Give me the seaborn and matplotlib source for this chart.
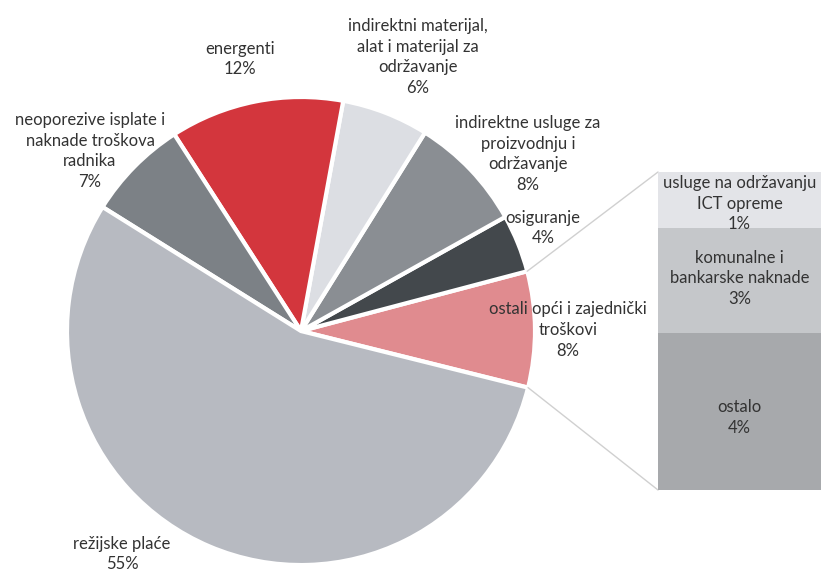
import numpy as np
import matplotlib
matplotlib.use("Agg")
import matplotlib.pyplot as plt
import seaborn as sns

# ---------------- data ----------------
pie_labels = [
    "ostali opći i zajednički\ntroškovi",
    "osiguranje",
    "indirektne usluge za\nproizvodnju i\nodržavanje",
    "indirektni materijal,\nalat i materijal za\nodržavanje",
    "energenti",
    "neoporezive isplate i\nnaknade troškova\nradnika",
    "režijske plaće",
]
pie_values = [8, 4, 8, 6, 12, 7, 55]

bar_labels = ["ostalo", "komunalne i\nbankarske naknade", "usluge na održavanju\nICT opreme"]
bar_values = [3.95, 2.65, 1.4]   # bottom -> top, sums to the "ostali" slice

# ---------------- style ----------------
pie_colors = ["#e08b8f", "#43484c", "#8a8e93", "#dcdee3", "#d3363d", "#7c8186", "#b7bac1"]
bar_colors = ["#a7a9ac", "#c5c7ca", "#e3e4e8"]
explode = [0, 0, 0, 0, 0, 0, 0.04]
text_color = "#333333"
line_color = "#d0d0d0"
fs = 12

W, H = 821, 576
sns.set_theme(style="white")
plt.rcParams["font.family"] = ["Lato", "DejaVu Sans"]

fig = plt.figure(figsize=(W / 100, H / 100), dpi=100)
ax = fig.add_axes([0, 0, 1, 1])

cx, cy, R = 301, H - 331, 234
start = -14
ax.pie(pie_values, colors=pie_colors, startangle=start, counterclock=True,
       center=(cx, cy), radius=R, explode=explode,
       wedgeprops=dict(edgecolor="white", linewidth=3))
ax.set_xlim(0, W)
ax.set_ylim(0, H)
ax.set_aspect("equal")
ax.axis("off")

# pie labels (positions in image pixel coords)
pie_label_pos = [(568, 330), (543, 228), (528, 154), (418, 57), (240, 59), (90, 151), (122, 554)]
for lab, v, (px, py) in zip(pie_labels, pie_values, pie_label_pos):
    ax.text(px, H - py, f"{lab}\n{v}%", ha="center", va="center", fontsize=fs,
            color=text_color, linespacing=1.35, clip_on=False)

# ---------------- bar of pie ----------------
bx0, by_top, by_bot = 658, 172, 490
axb = fig.add_axes([bx0 / W, (H - by_bot) / H, (W - bx0) / W, (by_bot - by_top) / H])
cum = np.cumsum(bar_values)
for i in range(len(bar_values) - 1, -1, -1):
    sns.barplot(x=["b"], y=[cum[i]], color=bar_colors[i], saturation=1, width=1,
                ax=axb, linewidth=0)
axb.set_xlim(-0.5, 0.5)
axb.set_ylim(0, cum[-1])
axb.axis("off")

bar_label_dy = [-0.15, 0.05, -0.1]
for i, (lab, v) in enumerate(zip(bar_labels, bar_values)):
    mid = cum[i] - v / 2 + bar_label_dy[i]
    axb.text(0, mid, f"{lab}\n{v:.0f}%", ha="center", va="center", fontsize=fs,
             color=text_color, linespacing=1.35, clip_on=False)

# connector lines from the "ostali" slice edges to the bar
t1 = np.deg2rad(start + pie_values[0] * 3.6)
t0 = np.deg2rad(start)
ax.plot([cx + R * np.cos(t1), bx0], [cy + R * np.sin(t1), H - by_top], color=line_color, lw=1)
ax.plot([cx + R * np.cos(t0), bx0], [cy + R * np.sin(t0), H - by_bot], color=line_color, lw=1)

fig.savefig("out.png", dpi=100)
